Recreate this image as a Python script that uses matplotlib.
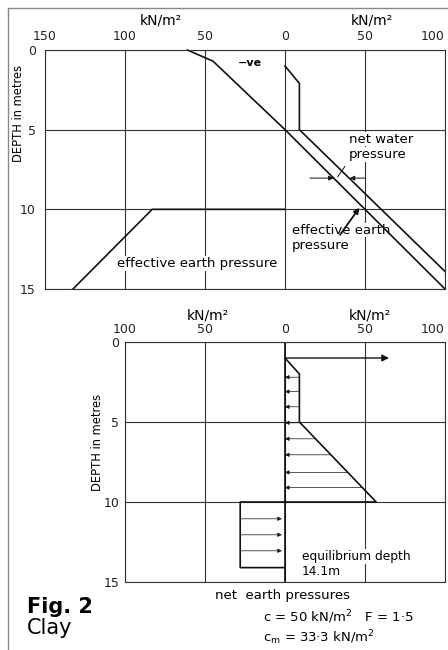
import matplotlib
matplotlib.use("Agg")
import matplotlib.pyplot as plt
import numpy as np
from matplotlib.lines import Line2D

plt.rcParams['font.family'] = ['DejaVu Sans']
plt.rcParams['mathtext.fontset'] = 'dejavusans'

# ---- data (kN/m2 : left side negative, depth in m) ----
ticks_top = [-150, -100, -50, 0, 50, 100]
ticks_top_lbl = ["150", "100", "50", "0", "50", "100"]
ticks_bot = [-100, -50, 0, 50, 100]
ticks_bot_lbl = ["100", "50", "0", "50", "100"]
depth_ticks = [0, 5, 10, 15]

# effective earth pressure (active side, continuing through zero)
eff_x = [-61, -45, 0, 100]
eff_d = [0, 0.7, 5, 15]
# effective + net water pressure
wat_x = [0, 9, 9, 100]
wat_d = [1, 2.1, 5, 13.9]
# passive effective earth pressure (left)
pas_x = [0, -83, -132.5]
pas_d = [10, 10, 15]

# net earth pressures
net_x = [0, 9, 9, 57, -28, -28, 0]
net_d = [1, 2, 5, 10, 10, 14.1, 14.1]
net_arrow_d = [2.2, 3.1, 4.05, 5.05, 6.05, 7.05, 8.15, 9.1]
pas_arrow_d = [11.05, 12.05, 13.05]
top_force = 65   # arrow at 1 m

W, H = 448, 650
fig = plt.figure(figsize=(W / 100, H / 100), dpi=100)
fig.patch.set_facecolor('white')

def fx(px):
    return px / W

def fy(py):
    return 1 - py / H

def style_axes(ax, xt, xl, ypad, xpad):
    ax.set_ylim(15, 0)
    ax.xaxis.tick_top()
    ax.set_xticks(xt)
    ax.set_xticklabels(xl)
    ax.set_yticks(depth_ticks)
    ax.tick_params(length=0, labelsize=9, colors='#222')
    ax.tick_params(axis='y', pad=ypad)
    ax.tick_params(axis='x', pad=xpad)
    ax.grid(True, color='#333', lw=0.8)
    for s in ax.spines.values():
        s.set_color('#333')
        s.set_linewidth(0.8)
    ax.set_axisbelow(True)

fs = 9.5
tb = dict(facecolor='white', edgecolor='none', pad=0.5)

def label(ax, x, y, s, size=fs):
    # white box hides grid lines, data lines stay on top
    ax.text(x, y, s, fontsize=size, ha='left', va='center', bbox=tb, zorder=1.5)

# ---- top chart ----
ax1 = fig.add_axes([fx(45), fy(289), fx(400), 239 / H])
ax1.set_xlim(-150, 100)
style_axes(ax1, ticks_top, ticks_top_lbl, 6.5, 5)
ax1.get_xticklabels()[-1].set_ha('right')

lw = 1.2
ax1.plot(eff_x, eff_d, color='#111', lw=lw, clip_on=False)
ax1.plot(wat_x, wat_d, color='#111', lw=lw)
ax1.plot(pas_x, pas_d, color='#111', lw=lw)

ax1.text(-22, 0.8, "\u2212ve", fontsize=8, fontweight='bold', ha='center', va='center')
label(ax1, 40, 5.6, "net water")
label(ax1, 40, 6.55, "pressure")
label(ax1, 4.5, 11.3, "effective earth")
label(ax1, 4.5, 12.3, "pressure")
label(ax1, -105, 13.4, "effective earth pressure")

ap = dict(arrowstyle='-|>', lw=0.7, color='#111', mutation_scale=7, shrinkA=0, shrinkB=0)
ax1.annotate('', xy=(30.4, 8.04), xytext=(15.6, 8.04), arrowprops=ap)
ax1.annotate('', xy=(40.5, 8.04), xytext=(50, 8.04), arrowprops=ap)
ax1.plot([37.5, 33], [7.3, 7.95], color='#111', lw=0.7)
ax1.annotate('', xy=(46.5, 9.9), xytext=(34.4, 11.6),
             arrowprops=dict(arrowstyle='-|>', lw=1.3, color='#111', mutation_scale=8,
                             shrinkA=0, shrinkB=0))

fig.text(fx(161), fy(20), "kN/m\u00b2", fontsize=10, ha='center', va='center')
fig.text(fx(372), fy(20), "kN/m\u00b2", fontsize=10, ha='center', va='center')
fig.text(fx(18), fy(113), "DEPTH in metres", fontsize=8.3, rotation=90, ha='center', va='center')

# ---- bottom chart ----
ax2 = fig.add_axes([fx(125), fy(582), fx(320), 240 / H])
ax2.set_xlim(-100, 100)
style_axes(ax2, ticks_bot, ticks_bot_lbl, 4, 4)
ax2.get_xticklabels()[-1].set_ha('right')

ax2.plot(net_x, net_d, color='#111', lw=lw)
ax2.axvline(0, color='#111', lw=lw)
ax2.annotate('', xy=(top_force, 1), xytext=(0, 1),
             arrowprops=dict(arrowstyle='-|>', lw=1.0, color='#111', mutation_scale=10,
                             shrinkA=0, shrinkB=0))
ap2 = dict(arrowstyle='-|>', lw=0.5, color='#111', mutation_scale=6, shrinkA=0, shrinkB=0)
for d in net_arrow_d:
    xe = np.interp(d, net_d[:4], net_x[:4])
    ax2.annotate('', xy=(0, d), xytext=(xe, d), arrowprops=ap2)
for d in pas_arrow_d:
    ax2.annotate('', xy=(-2, d), xytext=(net_x[4], d), arrowprops=ap2)

label(ax2, 10.6, 13.4, "equilibrium depth", 8.8)
label(ax2, 10.6, 14.35, "14.1m", 8.8)

fig.text(fx(208), fy(315), "kN/m\u00b2", fontsize=10, ha='center', va='center')
fig.text(fx(370), fy(315), "kN/m\u00b2", fontsize=10, ha='center', va='center')
fig.text(fx(97), fy(442), "DEPTH in metres", fontsize=8.3, rotation=90, ha='center', va='center')

fig.text(fx(282), fy(595), "net  earth pressures", fontsize=fs, ha='center', va='center')
fig.text(fx(263), fy(617), "c = 50 kN/m$^2$   F = 1\u00b75", fontsize=fs, ha='left', va='center')
fig.text(fx(263), fy(638), "c$_{\\rm m}$ = 33\u00b73 kN/m$^2$", fontsize=fs, ha='left', va='center')

fig.text(fx(27), fy(607), "Fig. 2", fontsize=15, fontweight='bold', ha='left', va='center')
fig.text(fx(27), fy(628), "Clay", fontsize=15, ha='left', va='center')

# frame
fig.add_artist(Line2D([fx(8), 1], [fy(8), fy(8)], color='#888', lw=1.0))
fig.add_artist(Line2D([fx(8), fx(8)], [fy(8), 0], color='#888', lw=1.0))

fig.savefig("out.png", dpi=100, facecolor='white')
